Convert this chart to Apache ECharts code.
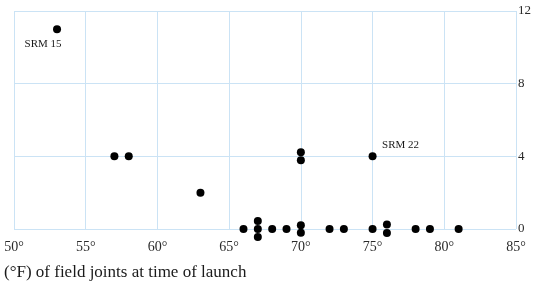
<!DOCTYPE html>
<html><head><meta charset="utf-8">
<script src="https://cdn.jsdelivr.net/npm/echarts@6/dist/echarts.min.js"></script>
<style>html,body{margin:0;padding:0;background:#fff}#c{width:535px;height:287px}</style>
</head><body><div id="c"></div>
<script>
// Launch temperature (°F) and O-ring damage index (as plotted, stacked duplicates offset)
const temps  = [53, 57, 58, 63, 66, 67, 67, 67, 68, 69, 70, 70, 70, 70, 72, 73, 75, 75, 76, 76, 78, 79, 81];
const damage = [11, 4, 4, 2, 0, 0.44, 0, -0.44, 0, 0, 4.22, 3.78, 0.21, -0.21, 0, 0, 4, 0, 0.25, -0.22, 0, 0, 0];
const annTemps = [53, 75];
const annValues = [11, 4];
const annTexts = ['SRM 15', 'SRM 22'];
const xTicks = [50, 55, 60, 65, 70, 75, 80, 85];
const yTicks = [0, 4, 8, 12];
const xTitle = '(°F) of field joints at time of launch';

const FONT = '"Liberation Serif", "DejaVu Serif", serif';
const labelPos = [[-10, 19], [32, -7]];
const data = temps.map((t, i) => {
  const item = { value: [t, damage[i]] };
  const k = annTemps.findIndex((a, j) => a === t && annValues[j] === damage[i]);
  if (k >= 0) {
    item.label = { show: true, formatter: annTexts[k], position: labelPos[k], align: 'center', verticalAlign: 'middle',
      fontFamily: FONT, fontSize: 11, color: '#1a1a1a' };
  }
  return item;
});

const gridLine = { show: true, lineStyle: { color: '#cbe3f5', type: 'solid', width: 1 } };
const chart = echarts.init(document.getElementById('c'), null, { renderer: 'canvas' });
chart.setOption({
  animation: false,
  backgroundColor: '#fff',
  title: { text: xTitle, left: -1, top: 259, textStyle: { fontFamily: FONT, fontSize: 17, fontWeight: 'normal', color: '#1a1a1a' } },
  grid: { left: 14, right: 19, top: 11, bottom: 58 },
  xAxis: {
    type: 'value', min: xTicks[0], max: xTicks[xTicks.length - 1], interval: 5,
    axisLine: { show: false }, axisTick: { show: false },
    axisLabel: { formatter: '{value}°', fontFamily: FONT, fontSize: 14, color: '#2a2a2a', margin: 11 },
    splitLine: gridLine
  },
  yAxis: {
    type: 'value', position: 'right', min: yTicks[0], max: yTicks[yTicks.length - 1], interval: 4,
    axisLine: { show: false }, axisTick: { show: false },
    axisLabel: { fontFamily: FONT, fontSize: 13, color: '#2a2a2a', margin: 2, align: 'left' },
    splitLine: gridLine
  },
  series: [{
    type: 'scatter', clip: false, symbol: 'circle', symbolSize: 8,
    itemStyle: { color: '#000', opacity: 1 },
    data: data
  }]
});
</script></body></html>
